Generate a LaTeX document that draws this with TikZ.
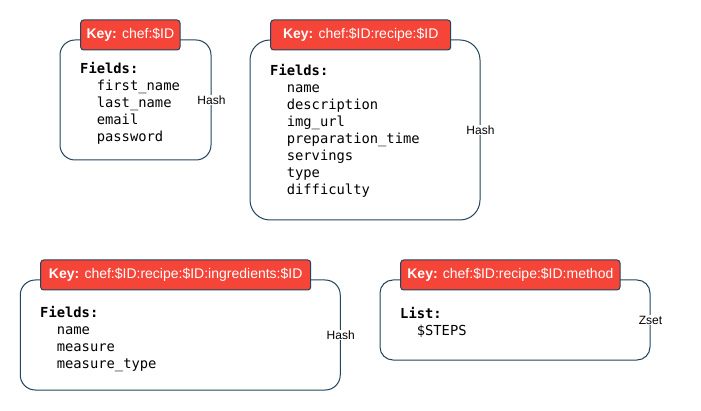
\documentclass[tikz,border=0pt]{standalone}
\usepackage{fontspec}
\setmainfont{Liberation Sans}
\newfontfamily\fieldfont{DejaVu Sans Mono}
\newcommand{\fieldind}{\hspace*{16.6pt}}

\begin{document}
\begin{tikzpicture}[x=1pt, y=-1pt,
    box/.style={draw=edgecolor, line width=1pt, fill=white, inner sep=0pt},
    keytag/.style={draw=edgecolor, line width=1pt, fill=keycolor, rounded corners=3pt, minimum height=30pt, inner sep=0pt, text=white, font=\fontsize{14}{16}\selectfont},
    fields/.style={anchor=north west, inner sep=0pt, align=left, font=\fieldfont\fontsize{13.8}{17}\selectfont},
    kind/.style={fill=white, inner sep=1pt, font=\fontsize{12}{14}\selectfont}]
    \definecolor{edgecolor}{RGB}{35,68,93};
    \definecolor{keycolor}{RGB}{245,68,56};

    \useasboundingbox (0,0) rectangle (701,411);

    \node [box, minimum width=151pt, minimum height=120pt, rounded corners=15pt] (chef) at (135.5,100) {};
    \node [box, minimum width=230pt, minimum height=180pt, rounded corners=20pt] (recipe) at (365,130) {};
    \node [box, minimum width=320pt, minimum height=110pt, rounded corners=15pt] (ingredients) at (180.25,335) {};
    \node [box, minimum width=270pt, minimum height=80pt, rounded corners=13pt] (method) at (515,320) {};

    \node [keytag, minimum width=99.3pt] (chefkey) at (130.35,35) {\textbf{Key:} chef:\$ID};
    \node [keytag, minimum width=180pt] (recipekey) at (360.7,35) {\textbf{Key:} chef:\$ID:recipe:\$ID};
    \node [keytag, minimum width=270pt] (ingredientskey) at (175.7,275) {\textbf{Key:} chef:\$ID:recipe:\$ID:ingredients:\$ID};
    \node [keytag, minimum width=219.3pt] (methodkey) at (510.35,275) {\textbf{Key:} chef:\$ID:recipe:\$ID:method};

    \node [fields] (cheffields) at (80,62.5) {\textbf{Fields:}\\ \fieldind first\_name\\ \fieldind last\_name\\ \fieldind email\\ \fieldind password};
    \node [fields] (recipefields) at (270,64.5) {\textbf{Fields:}\\ \fieldind name\\ \fieldind description\\ \fieldind img\_url\\ \fieldind preparation\_time\\ \fieldind servings\\ \fieldind type\\ \fieldind difficulty};
    \node [fields] (ingredientsfields) at (40,306.2) {\textbf{Fields:}\\ \fieldind name\\ \fieldind measure\\ \fieldind measure\_type};
    \node [fields] (methodfields) at (400,307.2) {\textbf{List:}\\ \fieldind \$STEPS};

    \node [kind] (chefkind) at (chef.east) {Hash};
    \node [kind] (recipekind) at (recipe.east) {Hash};
    \node [kind] (ingredientskind) at (ingredients.east) {Hash};
    \node [kind] (methodkind) at (method.east) {Zset};

\end{tikzpicture}
\end{document}
